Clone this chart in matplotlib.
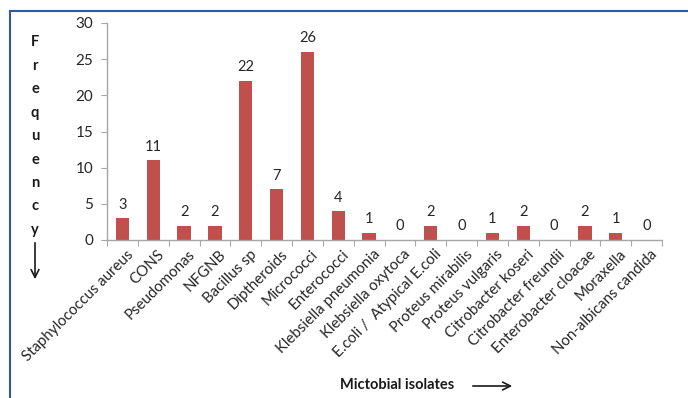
import matplotlib
matplotlib.use("Agg")
import matplotlib.pyplot as plt
from matplotlib.lines import Line2D
from matplotlib.patches import FancyArrowPatch
import numpy as np

plt.rcParams["font.family"] = ["Lato", "DejaVu Sans"]

isolates = [
    "Staphylococcus aureus", "CONS", "Pseudomonas", "NFGNB", "Bacillus sp",
    "Diptheroids", "Micrococci", "Enterococci", "Klebsiella pneumonia",
    "Klebsiella oxytoca", "E.coli /  Atypical E.coli", "Proteus mirabilis",
    "Proteus vulgaris", "Citrobacter koseri", "Citrobacter freundii",
    "Enterobacter cloacae", "Moraxella", "Non-albicans candida",
]
frequency = [3, 11, 2, 2, 22, 7, 26, 4, 1, 0, 2, 0, 1, 2, 0, 2, 1, 0]
y_ticks = [0, 5, 10, 15, 20, 25, 30]

BAR = "#c0504d"
AXIS = "#a6a6a6"
TEXT = "#262626"

fig = plt.figure(figsize=(6.88, 3.98), dpi=100)
ax = fig.add_axes([107 / 688, 1 - 240 / 398, 555 / 688, 217 / 398])

x = np.arange(len(isolates))
ax.bar(x, frequency, width=0.43, color=BAR)
for xi, v in zip(x, frequency):
    ax.text(xi, v + 0.9, str(v), ha="center", va="bottom", fontsize=10.5, color=TEXT)

ax.set_xlim(-0.5, len(isolates) - 0.5)
ax.set_ylim(0, 30)
ax.set_yticks(y_ticks)
ax.tick_params(axis="y", direction="out", length=4, color=AXIS, labelsize=11, labelcolor=TEXT, pad=6)

# category boundaries carry the x tick marks, labels sit at bar centres
ax.set_xticks(np.arange(len(isolates) + 1) - 0.5)
ax.set_xticklabels([])
ax.tick_params(axis="x", direction="out", length=4, color=AXIS)
for xi, name in zip(x, isolates):
    ax.text(xi + 0.28, -1.7, name, rotation=45, rotation_mode="anchor",
            ha="right", va="center", fontsize=10.8, color=TEXT)

for s in ["top", "right"]:
    ax.spines[s].set_visible(False)
for s in ["left", "bottom"]:
    ax.spines[s].set_color(AXIS)
    ax.spines[s].set_linewidth(1.0)

# stacked y label with a downward arrow
for i, ch in enumerate("Frequency"):
    fig.text(35 / 688, 1 - (42 + i * 23.5) / 398, ch, ha="center", va="center",
             fontsize=10.5, fontweight="bold", color="#1a1a1a")
fig.patches.append(FancyArrowPatch(
    (35 / 688, 1 - 240 / 398), (35 / 688, 1 - 282 / 398), transform=fig.transFigure,
    arrowstyle="->", mutation_scale=14, lw=1.2, color="#1a1a1a"))

fig.text(340 / 688, 1 - 385 / 398, "Mictobial isolates", ha="left", va="center",
         fontsize=10.5, fontweight="bold", color="#1a1a1a")
fig.patches.append(FancyArrowPatch(
    (470 / 688, 1 - 386 / 398), (515 / 688, 1 - 386 / 398), transform=fig.transFigure,
    arrowstyle="->", mutation_scale=14, lw=1.2, color="#1a1a1a"))

# frame lines along the top and left edges
fig.add_artist(Line2D([10 / 688, 1], [1 - 11 / 398, 1 - 11 / 398], color="#2e58a6", lw=1.5))
fig.add_artist(Line2D([10 / 688, 10 / 688], [0, 1 - 11 / 398], color="#2e58a6", lw=1.5))

fig.savefig("out.png", dpi=100)
